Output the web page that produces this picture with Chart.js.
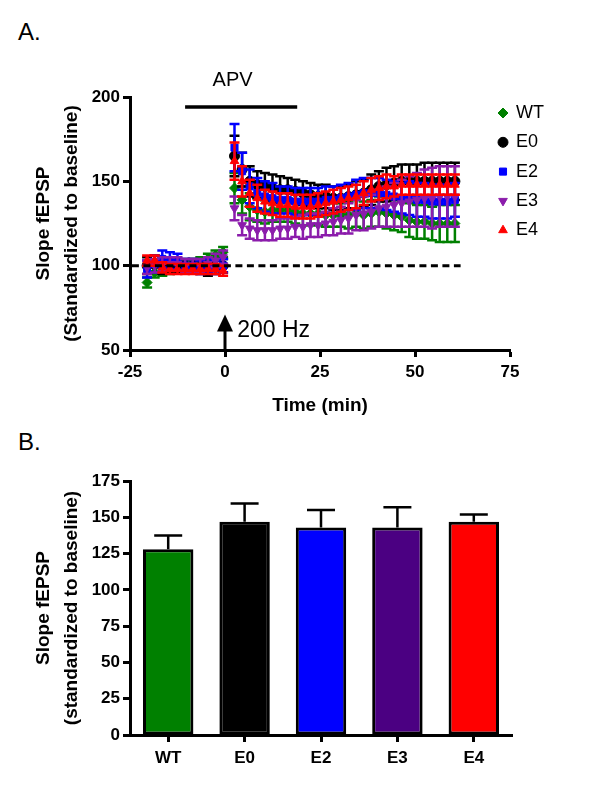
<!DOCTYPE html>
<html>
<head>
<meta charset="utf-8">
<script src="https://cdn.jsdelivr.net/npm/chart.js@4.4.0/dist/chart.umd.min.js"></script>
<style>
  body { margin: 0; background: #fff; width: 600px; height: 812px; position: relative; font-family: Arial, "Liberation Sans", sans-serif; }
  canvas { position: absolute; left: 0; }
  #top { top: 0; }
  #bottom { top: 420px; }
  .panel { position: absolute; left: 18px; font-size: 24px; line-height: 24px; }
</style>
</head>
<body>
<div class="panel" style="top:20px">A.</div>
<div class="panel" style="top:430px">B.</div>
<canvas id="top" width="600" height="420"></canvas>
<canvas id="bottom" width="600" height="392"></canvas>
<script>
// ---- panel A data: time course (mean and SEM per group) ----
const time = [-20.5, -18.5, -16.5, -14.5, -12.5, -10.5, -8.5, -6.5, -4.5, -2.5, -0.5,
  2.5, 4.5, 6.5, 8.5, 10.5, 12.5, 14.5, 16.5, 18.5, 20.5, 22.5, 24.5, 26.5, 28.5, 30.5,
  32.5, 34.5, 36.5, 38.5, 40.5, 42.5, 44.5, 46.5, 48.5, 50.5, 52.5, 54.5, 56.5, 58.5, 60.5];

const wtMean = [90, 96, 97, 98, 99, 100, 101, 102, 104, 106, 108,
  146, 139, 135, 133, 132, 133, 133, 133, 132, 131, 131, 131, 130, 130, 130,
  130, 131, 130, 131, 132, 131, 130, 129, 127, 126, 126, 125, 125, 125, 125];
const wtSem = [3, 3, 3, 3, 3, 3, 3, 3, 3, 3, 3,
  9, 8, 8, 7, 7, 7, 7, 7, 7, 7, 7, 7, 7, 7, 7,
  8, 8, 8, 8, 9, 9, 9, 9, 10, 10, 10, 10, 11, 11, 11];

const e0Mean = [100, 101, 100, 100, 100, 100, 100, 99, 98, 99, 100,
  165, 157, 150, 148, 147, 146, 145, 145, 144, 143, 142, 141, 141, 140, 140,
  141, 142, 143, 145, 147, 148, 149, 150, 150, 150, 150, 150, 150, 150, 150];
const e0Sem = [5, 5, 5, 4, 4, 4, 4, 4, 4, 4, 4,
  12, 10, 9, 8, 8, 8, 8, 7, 7, 7, 7, 7, 7, 7, 7,
  7, 8, 8, 9, 9, 10, 10, 10, 10, 10, 11, 11, 11, 11, 11];

const e2Mean = [98, 101, 104, 103, 102, 100, 100, 99, 100, 99, 100,
  170, 156, 147, 143, 141, 140, 139, 139, 138, 138, 138, 138, 139, 139, 140,
  141, 142, 143, 143, 143, 142, 141, 140, 140, 139, 139, 138, 138, 138, 139];
const e2Sem = [5, 5, 5, 5, 5, 4, 4, 4, 4, 4, 4,
  14, 11, 10, 9, 9, 9, 8, 8, 8, 8, 8, 8, 8, 8, 8,
  8, 9, 9, 9, 9, 9, 9, 9, 10, 10, 10, 10, 10, 10, 10];

const e3Mean = [99, 100, 101, 101, 101, 100, 100, 100, 101, 103, 105,
  134, 124, 122, 121, 121, 121, 122, 122, 123, 123, 124, 124, 125, 126, 127,
  128, 130, 131, 132, 134, 135, 136, 137, 138, 139, 140, 140, 141, 141, 141];
const e3Sem = [4, 4, 4, 4, 4, 4, 4, 4, 4, 4, 4,
  7, 6, 6, 6, 6, 6, 6, 6, 6, 7, 7, 7, 7, 8, 8,
  9, 9, 10, 10, 11, 12, 13, 14, 15, 16, 17, 18, 18, 18, 18];

const e4Mean = [103, 103, 99, 98, 98, 98, 98, 98, 98, 98, 97,
  162, 150, 143, 140, 138, 137, 136, 136, 135, 135, 135, 136, 137, 138, 139,
  140, 141, 143, 145, 146, 147, 147, 148, 148, 148, 148, 148, 148, 148, 148];
const e4Sem = [3, 3, 3, 3, 3, 3, 3, 3, 3, 3, 3,
  11, 9, 8, 8, 7, 7, 7, 7, 7, 7, 7, 7, 7, 7, 7,
  7, 7, 7, 7, 7, 7, 6, 6, 6, 6, 6, 6, 6, 6, 6];

// reference lines / marks in panel A
const baselineX = [-24.5, 62];
const baselineY = [100, 100];
const apvX = [-10.5, 19];
const apvY = [194, 194];
const stimTime = 0;

// ---- panel B data: summary bars ----
const groups = ["WT", "E0", "E2", "E3", "E4"];
const barMean = [128, 147, 143, 143, 147];
const barSem = [9.5, 12.5, 12, 14, 5];

const FONT = "Arial, 'Liberation Sans', sans-serif";

// error bars drawn under each dataset's own markers
const errorBars = {
  id: "errorBars",
  beforeDatasetDraw(chart, args) {
    const ds = chart.data.datasets[args.index];
    if (!ds.errors) return;
    const yScale = chart.scales.y;
    const ctx = chart.ctx;
    ctx.save();
    ctx.strokeStyle = ds.errorColor || ds.borderColor;
    ctx.lineWidth = ds.errorWidth || 2;
    args.meta.data.forEach((el, i) => {
      const raw = ds.data[i];
      const v = typeof raw === "object" ? raw.y : raw;
      const e = ds.errors[i];
      const x = el.x;
      const top = yScale.getPixelForValue(v + e);
      const bot = ds.upOnly ? yScale.getPixelForValue(v) : yScale.getPixelForValue(v - e);
      const w = ds.capWidth / 2;
      ctx.beginPath();
      ctx.moveTo(x, bot); ctx.lineTo(x, top);
      ctx.moveTo(x - w, top); ctx.lineTo(x + w, top);
      if (!ds.upOnly) { ctx.moveTo(x - w, bot); ctx.lineTo(x + w, bot); }
      ctx.stroke();
    });
    ctx.restore();
  }
};

const groupStyle = [
  { label: "WT", color: "#008000", style: "rectRot", rot: 0, mean: wtMean, sem: wtSem, order: 5 },
  { label: "E0", color: "#000000", style: "circle", rot: 0, mean: e0Mean, sem: e0Sem, order: 4 },
  { label: "E2", color: "#0000ff", style: "rect", rot: 0, mean: e2Mean, sem: e2Sem, order: 3 },
  { label: "E3", color: "#8b1cab", style: "triangle", rot: 180, mean: e3Mean, sem: e3Sem, order: 2 },
  { label: "E4", color: "#ff0000", style: "triangle", rot: 0, mean: e4Mean, sem: e4Sem, order: 1 }
];

// APV label, stimulus arrow and legend of panel A
const panelAMarks = {
  id: "panelAMarks",
  afterDraw(chart) {
    const ctx = chart.ctx;
    const xs = chart.scales.x, ys = chart.scales.y;
    ctx.save();
    ctx.fillStyle = "#000";
    ctx.font = "20px " + FONT;
    ctx.textAlign = "center";
    ctx.textBaseline = "middle";
    ctx.fillText("APV", xs.getPixelForValue(2), ys.getPixelForValue(210));

    // arrow at the 200 Hz stimulus
    const ax = xs.getPixelForValue(stimTime);
    const tip = ys.getPixelForValue(71);
    ctx.strokeStyle = "#000";
    ctx.lineWidth = 3;
    ctx.beginPath();
    ctx.moveTo(ax, ys.getPixelForValue(50));
    ctx.lineTo(ax, tip + 12);
    ctx.stroke();
    ctx.beginPath();
    ctx.moveTo(ax, tip);
    ctx.lineTo(ax - 8, tip + 17);
    ctx.lineTo(ax + 8, tip + 17);
    ctx.closePath();
    ctx.fill();
    ctx.font = "23px " + FONT;
    ctx.textAlign = "left";
    ctx.fillText("200 Hz", xs.getPixelForValue(3.2), ys.getPixelForValue(61.3));

    // legend
    ctx.font = "18px " + FONT;
    groupStyle.forEach((g, i) => {
      const ly = 113 + i * 29.3;
      ctx.fillStyle = g.color;
      ctx.strokeStyle = g.color;
      ctx.lineWidth = 1;
      Chart.helpers.drawPoint(ctx, { pointStyle: g.style, radius: 5, rotation: g.rot, borderWidth: 1 }, 503, ly);
      ctx.fillStyle = "#000";
      ctx.fillText(g.label, 516, ly);
    });
    ctx.restore();
  }
};

const tickFont = { family: FONT, size: 17, weight: "bold" };
const titleFont = { family: FONT, size: 19, weight: "bold", lineHeight: 1.47 };

const axisCommon = {
  grid: { drawOnChartArea: false, drawTicks: true, tickLength: 7, tickWidth: 3, tickColor: "#000" },
  border: { display: true, width: 3, color: "#000" },
  ticks: { color: "#000", font: tickFont }
};

const timeDatasets = groupStyle.map(g => ({
  type: "line",
  label: g.label,
  data: time.map((t, i) => ({ x: t, y: g.mean[i] })),
  errors: g.sem,
  capWidth: 10,
  errorWidth: 2.5,
  showLine: false,
  pointStyle: g.style,
  pointRotation: g.rot,
  pointRadius: 5,
  pointBorderWidth: 1,
  backgroundColor: g.color,
  borderColor: g.color,
  order: g.order
}));

timeDatasets.push({
  type: "line",
  label: "baseline",
  data: baselineX.map((x, i) => ({ x: x, y: baselineY[i] })),
  borderColor: "#000",
  borderWidth: 3,
  borderDash: [7, 4.5],
  pointRadius: 0,
  order: 0
});
timeDatasets.push({
  type: "line",
  label: "APV",
  data: apvX.map((x, i) => ({ x: x, y: apvY[i] })),
  borderColor: "#000",
  borderWidth: 3.5,
  pointRadius: 0,
  order: 0
});

new Chart(document.getElementById("top"), {
  type: "scatter",
  data: { datasets: timeDatasets },
  plugins: [errorBars, panelAMarks],
  options: {
    responsive: false,
    animation: false,
    layout: { padding: { left: 0, top: 97, right: 90, bottom: 0 } },
    plugins: { legend: { display: false }, tooltip: { enabled: false } },
    scales: {
      x: {
        ...axisCommon,
        min: -25, max: 75,
        ticks: { ...axisCommon.ticks, stepSize: 25, padding: 5 },
        title: { display: true, text: "Time (min)", color: "#000", font: titleFont, padding: 0 },
        afterFit(scale) { scale.height = 70; }
      },
      y: {
        ...axisCommon,
        min: 50, max: 200,
        ticks: { ...axisCommon.ticks, stepSize: 50, padding: 3 },
        title: {
          display: true,
          text: ["Slope fEPSP", "(Standardized to baseline)"],
          color: "#000",
          font: titleFont,
          padding: { top: 30, bottom: 0 }
        },
        afterFit(scale) { scale.width = 130; }
      }
    }
  }
});

new Chart(document.getElementById("bottom"), {
  type: "bar",
  data: {
    labels: groups,
    datasets: [{
      data: barMean,
      errors: barSem,
      upOnly: true,
      capWidth: 28,
      errorWidth: 2.5,
      errorColor: "#000",
      backgroundColor: ["#008000", "#000000", "#0000ff", "#4b0082", "#ff0000"],
      borderColor: "#000",
      borderWidth: 3,
      borderSkipped: false,
      barPercentage: 0.66,
      categoryPercentage: 1
    }]
  },
  plugins: [errorBars],
  options: {
    responsive: false,
    animation: false,
    layout: { padding: { left: 0, top: 61, right: 88, bottom: 32 } },
    plugins: { legend: { display: false }, tooltip: { enabled: false } },
    scales: {
      x: {
        ...axisCommon,
        grid: { ...axisCommon.grid, offset: false },
        ticks: { ...axisCommon.ticks, padding: 6 },
        afterFit(scale) { scale.height = 45; }
      },
      y: {
        ...axisCommon,
        min: 0, max: 175,
        ticks: { ...axisCommon.ticks, stepSize: 25, padding: 3 },
        title: {
          display: true,
          text: ["Slope fEPSP", "(standardized to baseline)"],
          color: "#000",
          font: titleFont,
          padding: { top: 30, bottom: 0 }
        },
        afterFit(scale) { scale.width = 130; }
      }
    }
  }
});
</script>
</body>
</html>
